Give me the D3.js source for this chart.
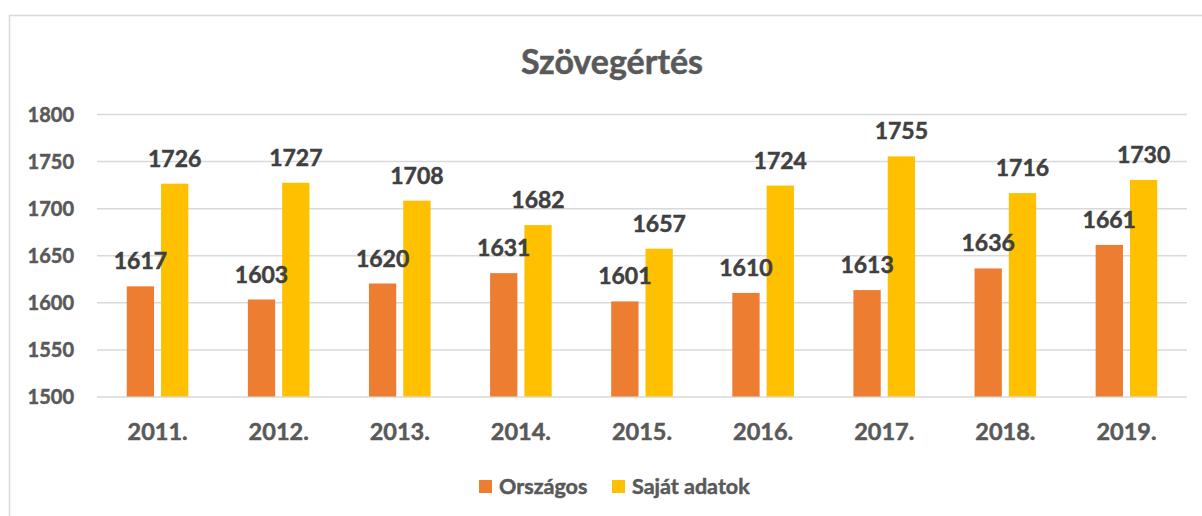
<!DOCTYPE html>
<html><head><meta charset="utf-8">
<script src="https://cdn.jsdelivr.net/npm/d3@7/dist/d3.min.js"></script>
<style>body{margin:0;background:#fff}svg{display:block}text{font-family:Lato,"Open Sans",sans-serif;font-weight:bold}</style>
</head><body><svg id="c" width="1202" height="516"></svg>
<script>
const categories = ["2011.","2012.","2013.","2014.","2015.","2016.","2017.","2018.","2019."];
const orszagos = [1617,1603,1620,1631,1601,1610,1613,1636,1661];
const sajat = [1726,1727,1708,1682,1657,1724,1755,1716,1730];
const seriesNames = ["Országos","Saját adatok"];
const colors = ["#ED7D31","#FFC000"];
const yTicks = [1500,1550,1600,1650,1700,1750,1800];

(function(){
const svg = d3.select("#c");
svg.append("rect").attr("x",9.5).attr("y",15.5).attr("width",1220).attr("height",540)
  .attr("fill","#fff").attr("stroke","#D9D9D9").attr("stroke-width",1.5);

const pL=97, pR=1187, pT=114, pB=396.5;
const x = d3.scaleBand().domain(categories).range([pL,pR]);
const y = d3.scaleLinear().domain([1500,1800]).range([pB,pT]);
const barW = 27.3, gap = 7;
const x1 = d3.scaleOrdinal().domain([0,1]).range([-(gap/2+barW), gap/2]);

function heavy(sel, col){ sel.attr("fill",col).attr("stroke",col).attr("stroke-width",0.5); }

heavy(svg.append("text").attr("x",612).attr("y",74).attr("text-anchor","middle")
  .style("font-size","34px").text("Szövegértés"), "#595959");

const yAxis = svg.append("g").attr("transform",`translate(${pL},0)`)
  .call(d3.axisLeft(y).tickValues(yTicks).tickSize(-(pR-pL)).tickFormat(d3.format("d")));
yAxis.select(".domain").remove();
yAxis.selectAll("line").attr("stroke","#D9D9D9").attr("stroke-width",1.5);
heavy(yAxis.selectAll("text").attr("x",-23).attr("dy","0.36em").style("font-size","20px"), "#595959");

const xAxis = svg.append("g").attr("transform",`translate(0,${pB})`)
  .call(d3.axisBottom(x).tickSize(0));
xAxis.select(".domain").remove();
heavy(xAxis.selectAll("text").attr("dy",0).attr("y",43.5).style("font-size","23.5px"), "#595959");

const series = [orszagos, sajat];
const bars = svg.append("g"), labels = svg.append("g");
series.forEach((vals,si)=>{
  bars.append("g").selectAll("rect").data(vals).enter().append("rect")
    .attr("x",(d,i)=>x(categories[i])+x.bandwidth()/2+x1(si))
    .attr("y",d=>y(d)).attr("width",barW).attr("height",d=>y(1500)-y(d))
    .attr("fill",colors[si]);
  heavy(labels.append("g").selectAll("text").data(vals).enter().append("text")
    .attr("x",(d,i)=>x(categories[i])+x.bandwidth()/2+x1(si)+barW/2)
    .attr("y",d=>y(d)-17).attr("text-anchor","middle")
    .style("font-size","23px").text(d=>d), "#404040");
});

const legend = svg.append("g");
const lx = [479, 612];
seriesNames.forEach((n,i)=>{
  legend.append("rect").attr("x",lx[i]).attr("y",480).attr("width",13).attr("height",13).attr("fill",colors[i]);
  heavy(legend.append("text").attr("x",lx[i]+20).attr("y",493.5).style("font-size","21.5px").text(n), "#595959");
});
})();
</script></body></html>
